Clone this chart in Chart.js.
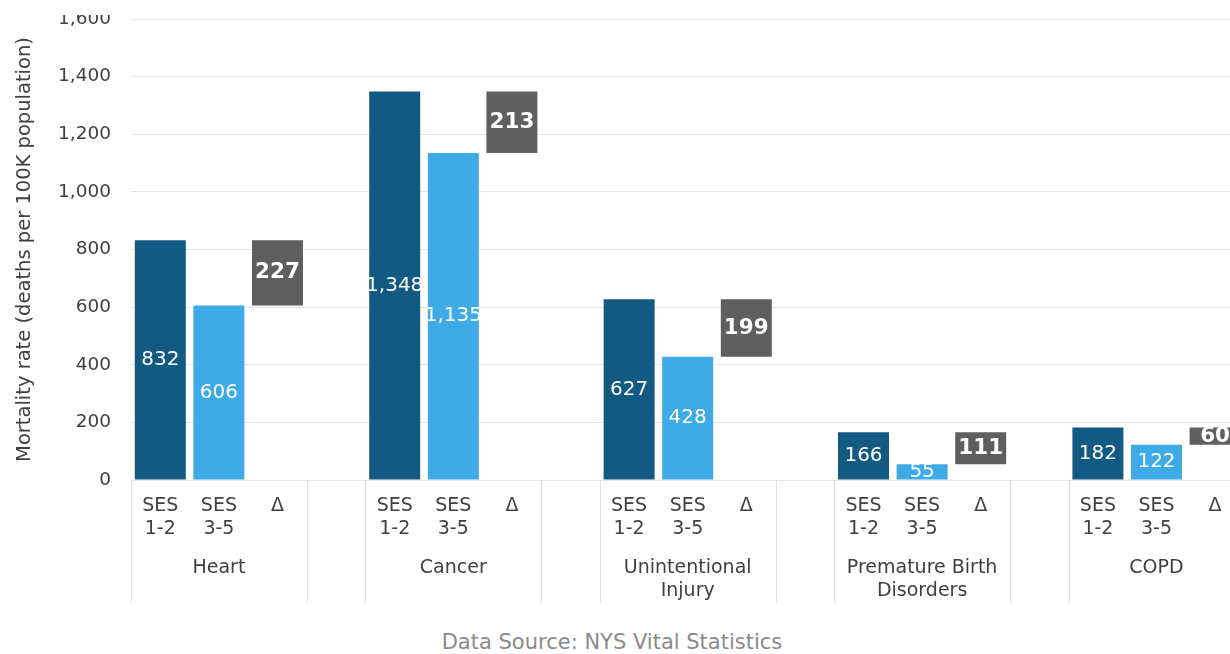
<!DOCTYPE html>
<html>
<head>
<meta charset="utf-8">
<script src="https://cdn.jsdelivr.net/npm/chart.js@4.4.1/dist/chart.umd.min.js"></script>
<style>
  html, body { margin: 0; padding: 0; background: #fff; overflow: hidden; width: 1230px; height: 654px; }
  #wrap { position: absolute; left: 0; top: 15px; width: 1303px; height: 605px; }
  #fonte { position: absolute; left: 0; top: 630px; width: 1224px; text-align: center;
           font: 21px "DejaVu Sans", Verdana, sans-serif; color: #8a8a8a; line-height: 24px; }
</style>
</head>
<body>
<div id="wrap"><canvas id="grafico"></canvas></div>
<div id="fonte">Data Source: NYS Vital Statistics</div>
<script>
// causas de morte (grupos do eixo X)
var grupos = ['Heart', 'Cancer', ['Unintentional', 'Injury'], ['Premature Birth', 'Disorders'], 'COPD'];
// rotulos das barras dentro de cada grupo (a ultima posicao fica vazia)
var subRotulos = [['SES', '1-2'], ['SES', '3-5'], '\u0394', ''];
// taxa de mortalidade (mortes por 100 mil habitantes)
var ses12 = [832.4, 1348, 627, 166, 182];
var ses35 = [605.6, 1135, 428, 55, 122];
// eixo Y
var yMin = 0, yMax = 1600, yPasso = 200;

var fonte = '"DejaVu Sans", Verdana, sans-serif';
Chart.defaults.font.family = fonte;

// monta as posicoes do eixo X: 4 por grupo
var labels = [];
var dados12 = [], dados35 = [], dadosDelta = [];
for (var i = 0; i < grupos.length; i++) {
  for (var j = 0; j < subRotulos.length; j++) {
    labels.push(subRotulos[j]);
    dados12.push(j == 0 ? ses12[i] : null);
    dados35.push(j == 1 ? ses35[i] : null);
    dadosDelta.push(j == 2 ? [ses35[i], ses12[i]] : null);
  }
}

function formata(v) {
  return Math.round(v).toLocaleString('en-US');
}

// escreve os valores dentro das barras
var rotulosBarras = {
  id: 'rotulosBarras',
  afterDatasetsDraw: function (chart) {
    var ctx = chart.ctx;
    ctx.save();
    ctx.fillStyle = '#fff';
    ctx.textAlign = 'center';
    ctx.textBaseline = 'middle';
    chart.data.datasets.forEach(function (ds, d) {
      var meta = chart.getDatasetMeta(d);
      meta.data.forEach(function (el, k) {
        var v = ds.data[k];
        if (v == null) return;
        var texto;
        if (d == 2) {
          texto = formata(v[1] - v[0]);
          ctx.font = 'bold 21.5px ' + fonte;
        } else {
          texto = formata(v);
          ctx.font = '20px ' + fonte;
        }
        ctx.fillText(texto, el.x, (el.y + el.base) / 2);
      });
    });
    ctx.restore();
  }
};

// nomes dos grupos e linhas separadoras abaixo do eixo
var eixoGrupos = {
  id: 'eixoGrupos',
  afterDraw: function (chart) {
    var ctx = chart.ctx;
    var x = chart.scales.x;
    var fundo = chart.chartArea.bottom;
    var passo = x.getPixelForValue(1) - x.getPixelForValue(0);
    ctx.save();
    ctx.strokeStyle = '#e2e2e2';
    ctx.lineWidth = 1;
    for (var k = 0; k < labels.length; k++) {
      if (k % 4 == 0 || k % 4 == 3) {
        var px = Math.round(x.getPixelForValue(k) - passo / 2) + 0.5;
        ctx.beginPath();
        ctx.moveTo(px, fundo);
        ctx.lineTo(px, fundo + 123);
        ctx.stroke();
      }
    }
    ctx.fillStyle = '#404040';
    ctx.font = '19px ' + fonte;
    ctx.textAlign = 'center';
    ctx.textBaseline = 'middle';
    grupos.forEach(function (g, i) {
      var cx = x.getPixelForValue(i * 4 + 1);
      var linhas = Array.isArray(g) ? g : [g];
      linhas.forEach(function (l, n) {
        ctx.fillText(l, cx, fundo + 88 + n * 23);
      });
    });
    ctx.restore();
  }
};

var ctx = document.getElementById('grafico').getContext('2d');
var chart = new Chart(ctx, {
  type: 'bar',
  data: {
    labels: labels,
    datasets: [
      { label: 'SES 1-2', data: dados12, backgroundColor: '#135a83' },
      { label: 'SES 3-5', data: dados35, backgroundColor: '#3eaae6' },
      { label: '\u0394', data: dadosDelta, backgroundColor: '#5f5f5f' }
    ]
  },
  options: {
    responsive: true,
    maintainAspectRatio: false,
    animation: false,
    datasets: { bar: { grouped: false, barPercentage: 0.87, categoryPercentage: 1 } },
    layout: { padding: { top: 4, left: 0, right: 0, bottom: 0 } },
    plugins: { legend: { display: false }, tooltip: { enabled: false } },
    scales: {
      x: {
        offset: true,
        grid: { display: false, drawTicks: false },
        border: { display: false },
        ticks: { color: '#404040', font: { size: 19, lineHeight: 1.22 }, padding: 14, maxRotation: 0, autoSkip: false },
        afterFit: function (s) { s.height = 140; }
      },
      y: {
        min: yMin,
        max: yMax,
        ticks: {
          stepSize: yPasso,
          color: '#404040',
          font: { size: 18.5 },
          padding: 20,
          callback: function (v) { return v.toLocaleString('en-US'); }
        },
        grid: { color: '#e6e6e6', drawTicks: false },
        border: { display: false },
        title: {
          display: true,
          text: 'Mortality rate (deaths per 100K population)',
          color: '#404040',
          font: { size: 19.5 },
          padding: { top: 13, bottom: 0 }
        },
        afterFit: function (s) { s.width = 131; s.paddingTop = 0; s.paddingBottom = 0; }
      }
    }
  },
  plugins: [rotulosBarras, eixoGrupos]
});
</script>
</body>
</html>
